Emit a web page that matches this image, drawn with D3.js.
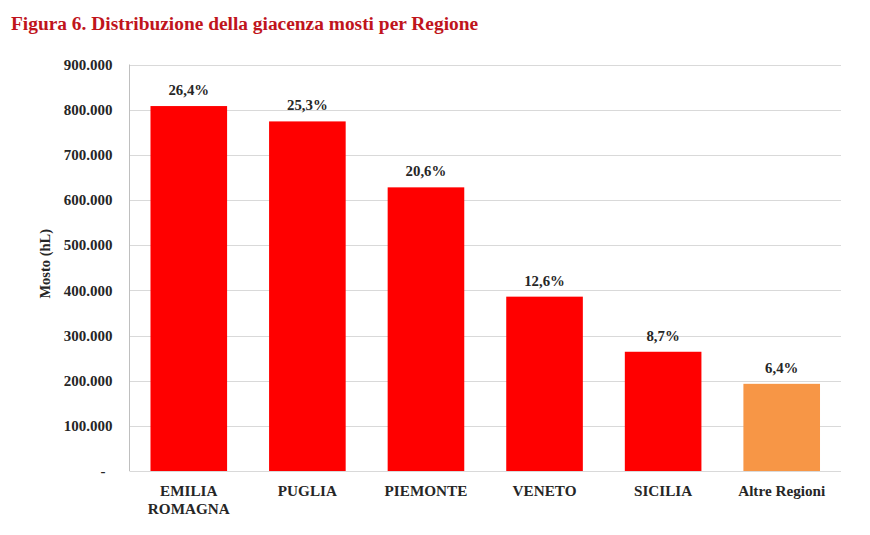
<!DOCTYPE html>
<html><head><meta charset="utf-8">
<script src="https://cdn.jsdelivr.net/npm/d3@7"></script>
<style>body{margin:0;background:#fff}</style>
</head><body>
<svg id="c" width="870" height="535"></svg>
<script>
const categories = [["EMILIA","ROMAGNA"],["PUGLIA"],["PIEMONTE"],["VENETO"],["SICILIA"],["Altre Regioni"]];
const values = [808000, 774000, 628000, 386000, 264000, 193000];
const percentLabels = ["26,4%","25,3%","20,6%","12,6%","8,7%","6,4%"];
const barColors = ["#FF0000","#FF0000","#FF0000","#FF0000","#FF0000","#F79646"];
const yTicks = [0,100000,200000,300000,400000,500000,600000,700000,800000,900000];
const yTickLabels = ["-","100.000","200.000","300.000","400.000","500.000","600.000","700.000","800.000","900.000"];
const title = "Figura 6. Distribuzione della giacenza mosti per Regione";
const yTitle = "Mosto (hL)";

const font = "'Liberation Serif', 'DejaVu Serif', serif";
const svg = d3.select("#c");
const L = 129.5, R = 841, T = 64.5, B = 471;
const x = d3.scaleBand().domain(d3.range(categories.length)).range([L, R]).paddingInner(0.354).paddingOuter(0.177);
const y = d3.scaleLinear().domain([0, 900000]).range([B, T]);

svg.append("text").attr("x", 11).attr("y", 30).attr("font-family", font).attr("font-weight", "bold")
  .attr("font-size", 19.4).attr("fill", "#C0141C").text(title);

// gridlines
svg.append("g").selectAll("line").data(yTicks.slice(1)).join("line")
  .attr("x1", L).attr("x2", R).attr("y1", d => Math.round(y(d)) + 0.5).attr("y2", d => Math.round(y(d)) + 0.5)
  .attr("stroke", "#D9D9D9").attr("stroke-width", 1);

// y axis
const yAxis = d3.axisLeft(y).tickValues(yTicks).tickFormat((d, i) => yTickLabels[i]).tickSize(0).tickPadding(17);
const ga = svg.append("g").attr("transform", `translate(${L},0)`).call(yAxis);
ga.select(".domain").remove();
ga.selectAll("text").attr("font-family", font).attr("font-weight", "bold").attr("font-size", 15).attr("fill", "#262626")
  .attr("dx", d => d === 0 ? -7 : 0);
svg.append("line").attr("x1", L).attr("x2", L).attr("y1", T).attr("y2", B).attr("stroke", "#BFBFBF");
svg.append("line").attr("x1", L).attr("x2", R).attr("y1", B + 0.5).attr("y2", B + 0.5).attr("stroke", "#D9D9D9");

svg.append("text").attr("transform", `translate(50,${(T + B) / 2 - 4}) rotate(-90)`).attr("text-anchor", "middle")
  .attr("font-family", font).attr("font-weight", "bold").attr("font-size", 14.5).attr("fill", "#262626").text(yTitle);

// bars
svg.append("g").selectAll("rect").data(values).join("rect")
  .attr("x", (d, i) => x(i)).attr("width", x.bandwidth())
  .attr("y", d => y(d)).attr("height", d => B - y(d)).attr("fill", (d, i) => barColors[i]);

// value labels
svg.append("g").selectAll("text").data(values).join("text")
  .attr("x", (d, i) => x(i) + x.bandwidth() / 2).attr("y", d => y(d) - 11)
  .attr("text-anchor", "middle").attr("font-family", font).attr("font-weight", "bold").attr("font-size", 14.8)
  .attr("fill", "#262626").text((d, i) => percentLabels[i]);

// x labels
const xl = svg.append("g").selectAll("text").data(categories).join("text")
  .attr("x", (d, i) => x(i) + x.bandwidth() / 2).attr("y", 496)
  .attr("text-anchor", "middle").attr("font-family", font).attr("font-weight", "bold").attr("font-size", 15.2)
  .attr("fill", "#262626");
xl.selectAll("tspan").data(d => d).join("tspan")
  .attr("x", function() { return this.parentNode.getAttribute("x"); })
  .attr("dy", (d, i) => i === 0 ? 0 : 18).text(d => d);
</script>
</body></html>
